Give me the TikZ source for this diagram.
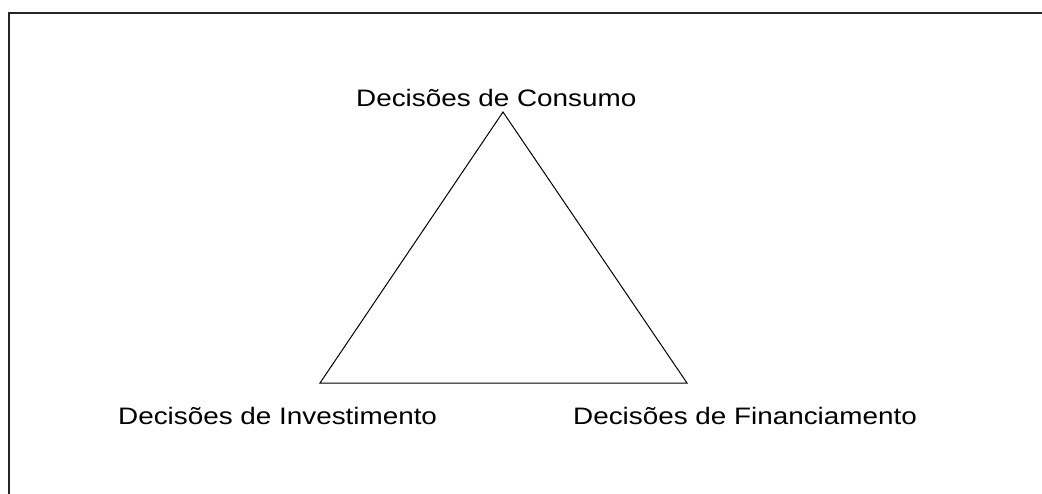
\documentclass[tikz,border=0pt]{standalone}
\usepackage{fontspec}
\setmainfont{Liberation Sans}
\tikzset{
  lbl/.style={inner sep=0pt, anchor=base west, font=\fontsize{23.8}{28}\selectfont, text=black},
  edge/.style={draw=black, line width=1pt, line join=miter},
  frame/.style={draw=black!85, line width=2pt}
}
\newcommand{\wide}[1]{\scalebox{1.17}[1]{#1}}
\begin{document}
\begin{tikzpicture}[x=1pt,y=-1pt]
\useasboundingbox (0,0) rectangle (1042,493);
\begin{scope}
\clip (0,0) rectangle (1042,493);
\draw[frame] (9,13) rectangle (1120,560);
\end{scope}
\coordinate (top) at (503,112);
\coordinate (bl) at (320,383);
\coordinate (br) at (687,383);
\draw[edge] (top) -- (bl) -- (br) -- cycle;
\node[lbl] (cons) at (356,106) {\wide{Decisões de Consumo}};
\node[lbl] (inv) at (118,424) {\wide{Decisões de Investimento}};
\node[lbl] (fin) at (573,424) {\wide{Decisões de Financiamento}};
\end{tikzpicture}
\end{document}
